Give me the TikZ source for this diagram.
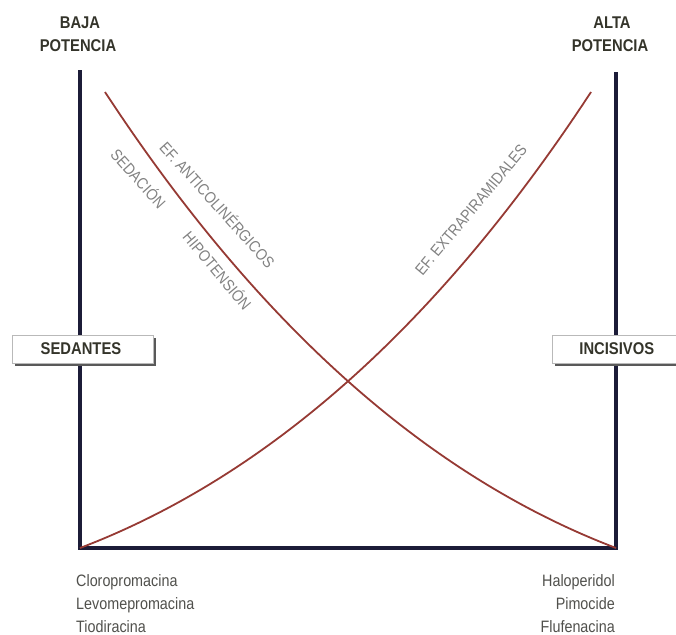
\documentclass[tikz,border=0pt]{standalone}
\usepackage{fontspec}
\setmainfont{Liberation Sans}[FakeStretch=0.87]
\usetikzlibrary{shadows}
\definecolor{axisblue}{RGB}{28,28,56}
\definecolor{curvered}{RGB}{150,58,52}
\definecolor{labelgray}{RGB}{130,130,130}
\definecolor{headink}{RGB}{52,52,42}
\definecolor{listink}{RGB}{80,80,76}
\tikzset{
  axisline/.style={draw=axisblue, line width=4pt, line join=miter},
  effect/.style={draw=curvered, line width=1.8pt},
  heading/.style={font=\fontsize{17}{20}\selectfont\bfseries, text=headink, inner sep=0pt},
  labelbox/.style={draw=gray!55, line width=0.6pt, fill=white,
    font=\fontsize{17}{20}\selectfont\bfseries, text=headink,
    minimum height=28pt, inner sep=0pt,
    drop shadow={shadow xshift=3pt, shadow yshift=-3pt, fill=black!65, opacity=1}},
  sidelabel/.style={font=\fontsize{16}{18}\selectfont, text=labelgray, inner sep=0pt},
  druglist/.style={font=\fontsize{16.5}{20}\selectfont, text=listink, inner sep=0pt}
}
\begin{document}
\begin{tikzpicture}[x=1pt, y=-1pt]
\useasboundingbox (0,0) rectangle (676,634);

% axes
\coordinate (TL) at (80,70);
\coordinate (BL) at (80,548);
\coordinate (BR) at (616,548);
\coordinate (TR) at (616,72);
\draw[axisline] (TL) -- (BL) -- (BR) -- (TR);

% headings over the two axes
\node[heading, anchor=base] (baja) at (80,29) {BAJA};
\node[heading, anchor=base] (bajapot) at (78,52) {POTENCIA};
\node[heading, anchor=base] (alta) at (612,29) {ALTA};
\node[heading, anchor=base] (altapot) at (610,52) {POTENCIA};

% effect curves
\coordinate (c1start) at (105,92);
\coordinate (c2end) at (591,92);
\draw[effect] (c1start) .. controls (257,324) and (427,476) .. (BR);
\draw[effect] (BL) .. controls (269,476) and (439,324) .. (c2end);

% labels along the curves
\node[sidelabel, rotate=-48] (anticol) at (218,204) {EF. ANTICOLINÉRGICOS};
\node[sidelabel, rotate=-48] (sedacion) at (139,178) {SEDACIÓN};
\node[sidelabel, rotate=-50] (hipot) at (218,270) {HIPOTENSIÓN};
\node[sidelabel, rotate=50] (extrapir) at (471,210) {EF. EXTRAPIRAMIDALES};

% boxes on the axes
\node[labelbox, minimum width=141pt] (sedantes) at (82.5,349) {\hspace*{-3pt}SEDANTES};
\node[labelbox, minimum width=132pt, anchor=west] (incisivos) at (552,349) {\hspace*{-3pt}INCISIVOS};

% drugs at each end
\node[druglist, anchor=base west] (clorop) at (76,586) {Cloropromacina};
\node[druglist, anchor=base west] (levom) at (76,609) {Levomepromacina};
\node[druglist, anchor=base west] (tiodir) at (76,632) {Tiodiracina};
\node[druglist, anchor=base east] (halop) at (615,586) {Haloperidol};
\node[druglist, anchor=base east] (pimoc) at (615,609) {Pimocide};
\node[druglist, anchor=base east] (flufen) at (615,632) {Flufenacina};
\end{tikzpicture}
\end{document}
